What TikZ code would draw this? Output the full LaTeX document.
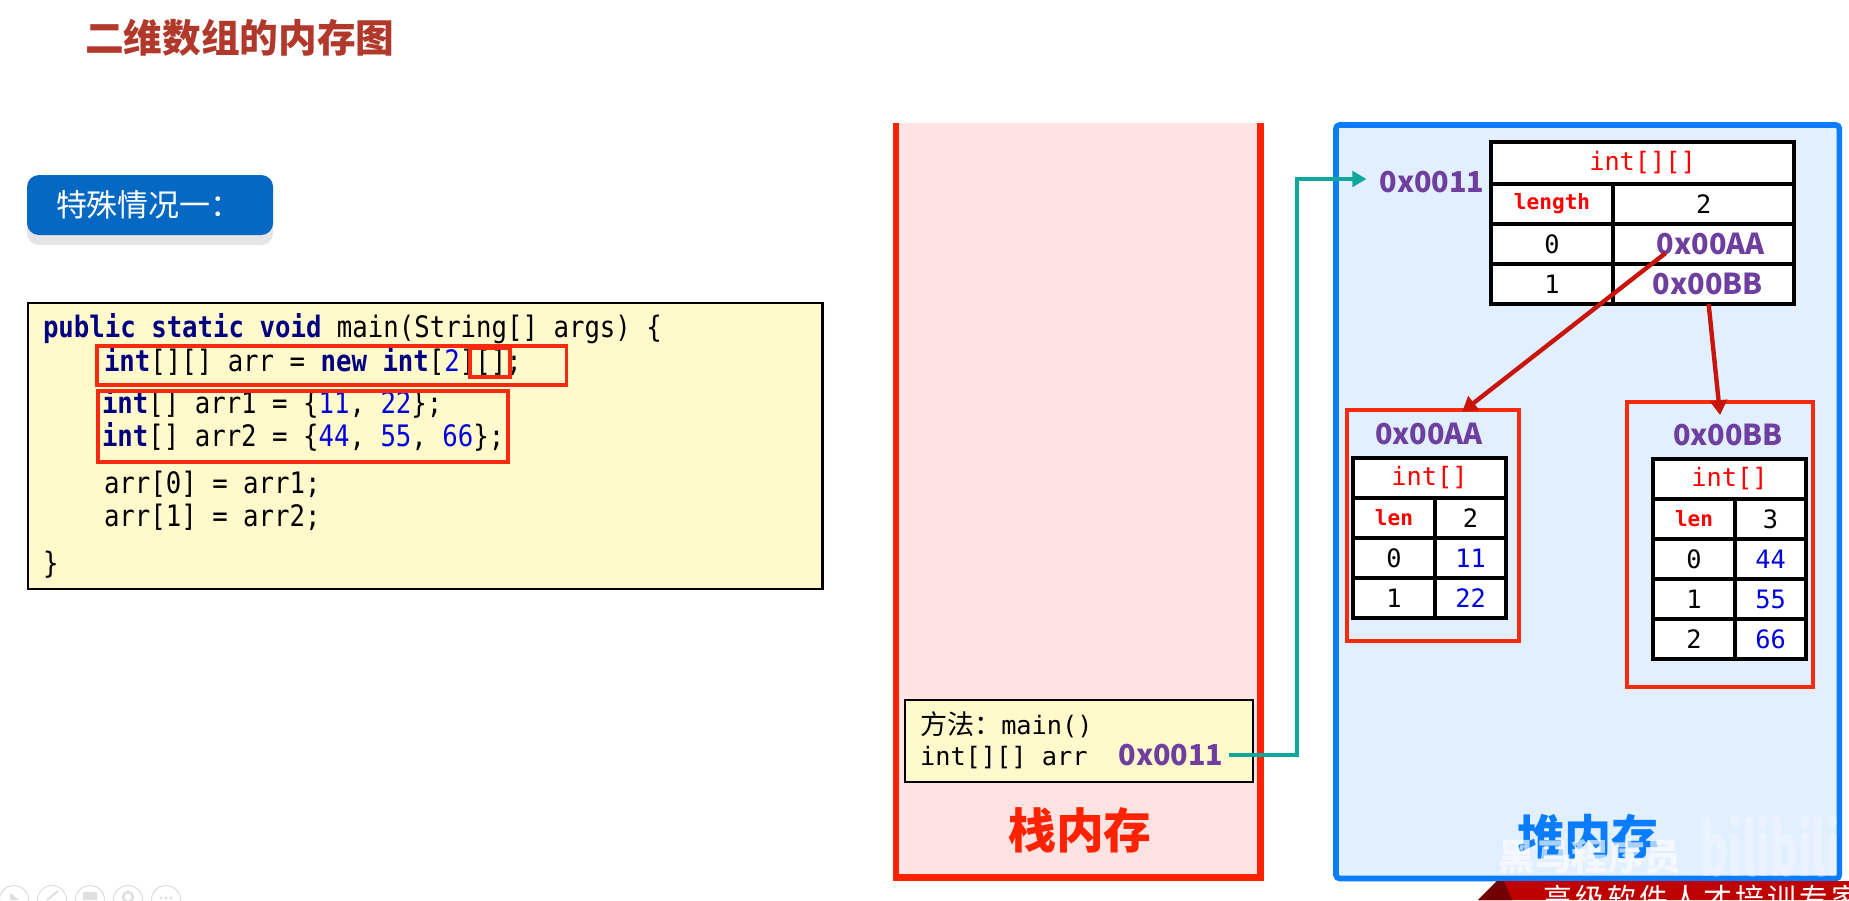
\documentclass[tikz,border=0pt]{standalone}
\usepackage{fontspec}
\usetikzlibrary{arrows.meta,positioning}
\setmonofont[FakeStretch=0.87]{DejaVu Sans Mono}
\newfontfamily\cjk{Noto Sans CJK SC}
\newfontfamily\celltt{DejaVu Sans Mono}
\definecolor{titlered}{HTML}{B0392B}
\definecolor{badgeblue}{HTML}{0568C3}
\definecolor{badgegrey}{HTML}{E5E5E8}
\definecolor{noteyellow}{HTML}{FFF9CC}
\definecolor{kwnavy}{HTML}{000080}
\definecolor{numblue}{HTML}{0000DD}
\definecolor{markred}{HTML}{F52A0E}
\definecolor{stackred}{HTML}{FF2200}
\definecolor{stackpink}{HTML}{FFE3E3}
\definecolor{heapblue}{HTML}{0A7DFF}
\definecolor{heapfill}{HTML}{E1EFFF}
\definecolor{addrpurple}{HTML}{6F3FA0}
\definecolor{linkteal}{HTML}{0EA79B}
\definecolor{linkred}{HTML}{C8140A}
\newcommand{\kw}[1]{\textcolor{kwnavy}{\textbf{#1}}}
\newcommand{\nm}[1]{\textcolor{numblue}{#1}}

\begin{document}
\begin{tikzpicture}[x=0.01cm, y=-0.01cm, >=Triangle,
  every node/.style = {inner sep=0pt, outer sep=0pt},
  codeline/.style = {anchor=west, font=\ttfamily\fontsize{8.4}{9}\selectfont,
                     text height=6.2pt, text depth=1.5pt},
  note/.style     = {rectangle, draw=black, line width=0.6pt, fill=noteyellow, anchor=north west},
  markbox/.style  = {rectangle, draw=markred, line width=1pt, anchor=north west},
  addr/.style     = {font=\cjk\bfseries\fontsize{8.2}{9}\selectfont, text=addrpurple},
  cell/.style     = {rectangle, draw=black, line width=1pt, fill=white, align=center,
                     minimum height=0.40cm, font=\celltt\fontsize{7.2}{8}\selectfont},
  headcell/.style = {cell, minimum width=1.53cm, text=red, anchor=north west},
  keycell/.style  = {cell, minimum width=0.82cm, anchor=north west},
  valcell/.style  = {cell, minimum width=0.71cm, anchor=north west},
  lencell/.style  = {font=\celltt\bfseries\fontsize{6}{8}\selectfont, text=red},
  tealarrow/.style = {->, draw=linkteal, line width=1.15pt, arrows={-Triangle[length=4pt,width=4.4pt]}},
  redarrow/.style  = {->, draw=linkred, line width=1.25pt, arrows={-Triangle[length=4.2pt,width=4.8pt]}},
  button/.style    = {circle, draw=black!13, line width=0.3pt, minimum size=0.29cm},
]
  \useasboundingbox (0,0) rectangle (1849,900);

  % left side: title, badge, code
  \node[anchor=west, text=titlered, font=\cjk\bfseries\fontsize{11}{12}\selectfont] (title)
    at (85,38) {二维数组的内存图};
  \node[rectangle, rounded corners=0.12cm, fill=badgegrey, minimum width=2.46cm, minimum height=0.60cm,
    anchor=north west] (badgeback) at (27,185) {};
  \node[rectangle, rounded corners=0.12cm, fill=badgeblue, minimum width=2.46cm, minimum height=0.60cm,
    anchor=north west] (badge) at (27,175) {};
  \node[anchor=west, text=white, font=\cjk\fontsize{8.8}{9}\selectfont] (badgetext)
    at (56,205) {特殊情况一：};

  \node[note, minimum width=7.94cm, minimum height=2.86cm] (code) at (28,303) {};
  \node[codeline] (l1) at (43,329) {\kw{public} \kw{static} \kw{void} main(String[] args) \{};
  \node[codeline] (l2) at (104,363) {\kw{int}[][] arr = \kw{new} \kw{int}[\nm{2}][];};
  \node[codeline] (l3) at (102,405) {\kw{int}[] arr1 = \{\nm{11}, \nm{22}\};};
  \node[codeline] (l4) at (102,438) {\kw{int}[] arr2 = \{\nm{44}, \nm{55}, \nm{66}\};};
  \node[codeline] (l5) at (104,485) {arr[0] = arr1;};
  \node[codeline] (l6) at (104,518) {arr[1] = arr2;};
  \node[codeline] (l7) at (43,565) {\}};

  \node[markbox, minimum width=4.69cm, minimum height=0.39cm] (markone) at (97,346) {};
  \node[markbox, minimum width=0.40cm, minimum height=0.29cm] (marksub) at (470,348) {};
  \node[markbox, minimum width=4.10cm, minimum height=0.71cm] (marktwo) at (98,391) {};

  % mouse pointer
  \draw[fill=white, draw=black!75, line width=0.3pt] (985,447) -- (985,463) -- (989,459) -- (992,466)
    -- (995,465) -- (992,458) -- (997,458) -- cycle;

  % stack
  \node[rectangle, fill=stackpink, minimum width=3.64cm, minimum height=7.54cm, anchor=north west]
    (stack) at (896,123) {};
  \draw[stackred, line width=1.9pt] (stack.north west) -- (stack.south west)
    -- (stack.south east) -- (stack.north east);
  \node[note, minimum width=3.48cm, minimum height=0.82cm] (frame) at (905,700) {};
  \node[anchor=west, font=\celltt\fontsize{7.2}{8}\selectfont] (framename)
    at (920,725) {{\cjk\fontsize{7.7}{8}\selectfont 方法：}main()};
  \node[anchor=west, font=\celltt\fontsize{7.2}{8}\selectfont] (framevar) at (920,758) {int[][] arr};
  \node[addr, inner sep=5pt*0.2845] (stackaddr) at (1171,755) {0x0011};
  \node[text=stackred, font=\cjk\bfseries\fontsize{13.6}{14}\selectfont] (stacklabel)
    at (1080,830) {栈内存};

  % heap
  \node[rectangle, draw=heapblue, fill=heapfill, line width=1.6pt, rounded corners=1pt,
    minimum width=5.03cm, minimum height=7.53cm, anchor=north west] (heap) at (1336,125) {};
  \node[text=heapblue, font=\cjk\bfseries\fontsize{13.4}{14}\selectfont] (heaplabel)
    at (1588,837) {堆内存};
  \node[addr, inner sep=13pt*0.2845] (heapaddr) at (1432,182) {0x0011};

  \node[headcell, minimum width=3.03cm, minimum height=0.42cm] (mainhead) at (1491,142) {int[][]};
  \node[keycell, lencell, minimum width=1.22cm, below right=0pt and 0pt of mainhead.south west] (mainlen) {length};
  \node[valcell, minimum width=1.81cm, right=0pt of mainlen.north east, anchor=north west] (mainlenval) {2};
  \node[keycell, minimum width=1.22cm, below right=0pt and 0pt of mainlen.south west] (mainzero) {0};
  \node[valcell, addr, minimum width=1.81cm, right=0pt of mainzero.north east, anchor=north west] (mainzeroval) {\hspace*{0.14cm}0x00AA};
  \node[keycell, minimum width=1.22cm, below right=0pt and 0pt of mainzero.south west] (mainone) {1};
  \node[valcell, addr, minimum width=1.81cm, right=0pt of mainone.north east, anchor=north west] (mainoneval) {\hspace*{0.08cm}0x00BB};

  % first inner array
  \node[markbox, minimum width=1.72cm, minimum height=2.31cm] (boxa) at (1347,410) {};
  \node[addr] (addra) at (1429,434) {0x00AA};
  \node[headcell] (ahead) at (1353,458) {int[]};
  \node[keycell, lencell, below right=0pt and 0pt of ahead.south west] (alen) {len};
  \node[valcell, right=0pt of alen.north east, anchor=north west] (alenval) {2};
  \node[keycell, below right=0pt and 0pt of alen.south west] (azero) {0};
  \node[valcell, text=numblue, right=0pt of azero.north east, anchor=north west] (azeroval) {11};
  \node[keycell, below right=0pt and 0pt of azero.south west] (aone) {1};
  \node[valcell, text=numblue, right=0pt of aone.north east, anchor=north west] (aoneval) {22};

  % second inner array
  \node[markbox, minimum width=1.86cm, minimum height=2.85cm] (boxb) at (1627,402) {};
  \node[addr] (addrb) at (1728,435) {0x00BB};
  \node[headcell] (bhead) at (1653,459) {int[]};
  \node[keycell, lencell, below right=0pt and 0pt of bhead.south west] (blen) {len};
  \node[valcell, right=0pt of blen.north east, anchor=north west] (blenval) {3};
  \node[keycell, below right=0pt and 0pt of blen.south west] (bzero) {0};
  \node[valcell, text=numblue, right=0pt of bzero.north east, anchor=north west] (bzeroval) {44};
  \node[keycell, below right=0pt and 0pt of bzero.south west] (bone) {1};
  \node[valcell, text=numblue, right=0pt of bone.north east, anchor=north west] (boneval) {55};
  \node[keycell, below right=0pt and 0pt of bone.south west] (btwo) {2};
  \node[valcell, text=numblue, right=0pt of btwo.north east, anchor=north west] (btwoval) {66};

  % links
  \coordinate (tealturn) at (1297,179);
  \draw[tealarrow] (stackaddr.east) -| (tealturn) -- (tealturn -| heapaddr.west);
  \draw[redarrow] ([xshift=-0.38cm,yshift=-0.09cm]mainzeroval.center)
    -- ([xshift=0.29cm,yshift=-0.02cm]boxa.north);
  \draw[redarrow] ([xshift=0.05cm]mainoneval.south) -- ([yshift=-0.13cm]boxb.north);

  % video overlay
  \fill[red!75!black] (1497,881) -- (1849,881) -- (1849,900) -- (1478,900) -- cycle;
  \fill[red!45!black] (1497,881) -- (1504,881) -- (1512,900) -- (1478,900) -- cycle;
  \node[anchor=west, text=white, font=\cjk\fontsize{8.2}{9}\selectfont] (slogan)
    at (1543,898) {\addfontfeature{LetterSpace=11}高级软件人才培训专家};
  \node[text=white, opacity=0.65, font=\cjk\bfseries\fontsize{10.4}{11}\selectfont] (brand)
    at (1590,857) {黑马程序员};
  \node[text=white, opacity=0.3, xscale=0.58, font=\cjk\bfseries\fontsize{21}{22}\selectfont] (bili)
    at (1770,846) {bilibili};

  % player buttons
  \foreach \i/\cx in {1/14, 2/52, 3/90, 4/128, 5/166}
    \node[button] (btn\i) at (\cx,900) {};
  \fill[black!13] (10,893) -- (10,900) -- (19,900) -- cycle;
  \draw[black!13, line width=0.5pt] (47,900) -- (58,891);
  \fill[black!13] (83,892) rectangle (97,900);
  \draw[black!13, line width=0.7pt] (128,897) circle (5);
  \foreach \cx in {161,166,171}
    \fill[black!13] (\cx,898) circle (1.7);
\end{tikzpicture}
\end{document}
